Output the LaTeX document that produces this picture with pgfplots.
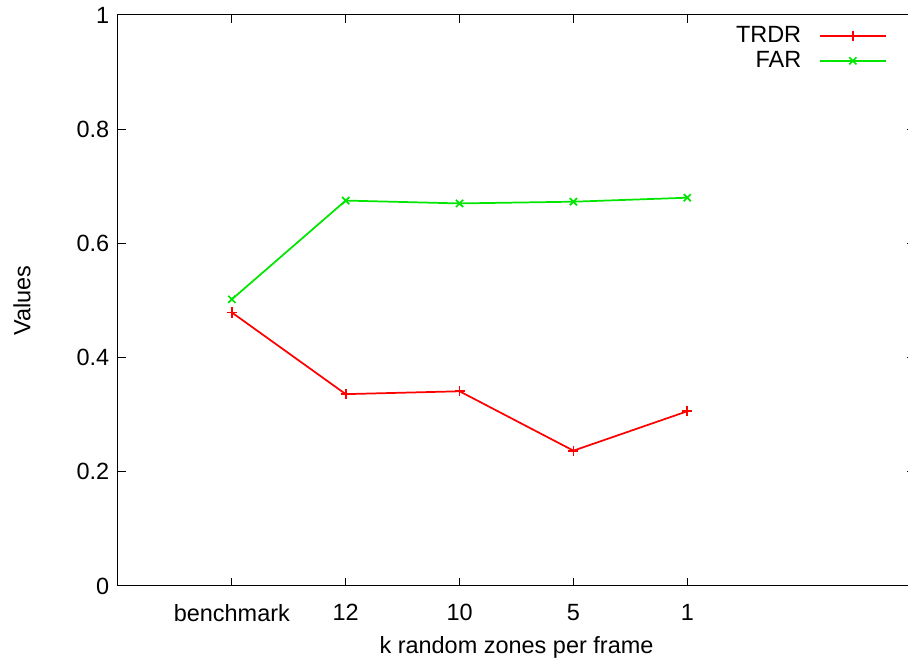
\documentclass[border=0pt]{standalone}
\usepackage{fontspec}
\setmainfont{Liberation Sans}
\usepackage{pgfplots}
\pgfplotsset{compat=1.18}
\definecolor{gpred}{RGB}{255,0,0}
\definecolor{gpgreen}{RGB}{0,230,0}
\begin{document}
\begin{tikzpicture}[font=\fontsize{17.6pt}{21pt}\selectfont]
\begin{axis}[
  name=ax,
  scale only axis,
  width=597.75pt, height=428.25pt,
  xmin=-1, xmax=6, ymin=0, ymax=1,
  xtick={0,1,2,3,4},
  xticklabels={benchmark,12,10,5,1},
  ytick={0,0.2,0.4,0.6,0.8,1},
  /pgf/number format/assume math mode=true,
  tick align=inside,
  major tick length=6pt,
  axis line style={line width=0.75pt},
  every tick/.style={line width=0.75pt, black},
  xticklabel style={yshift=-10pt},
  yticklabel style={xshift=-3pt},
  xlabel={k random zones per frame},
  ylabel={Values},
  xlabel style={at={(axis description cs:0.5,-0.1068)}, anchor=center},
  ylabel style={at={(axis description cs:-0.1205,0.5)}, anchor=center},
  legend style={draw=none, fill=none, at={(1,1)}, anchor=north east, xshift=-18pt, yshift=-4.6pt,
    row sep=1.2pt, font=\fontsize{17.6pt}{21pt}\selectfont},
  legend cell align=right,
  legend plot pos=right,
  legend image code/.code={
    \path[draw=none, fill=none, mark=none] (0pt,0pt) -- (1pt,0pt);
    \draw[#1, mark=none] (12pt,0pt) -- (61.5pt,0pt);
    \draw[#1, only marks] plot coordinates {(36.75pt,0pt)};
  },
]
\addplot[color=gpred, line width=1.3pt, mark=+, mark size=3.8pt, mark options={line width=1.3pt}]
  coordinates {(0,0.479) (1,0.336) (2,0.341) (3,0.237) (4,0.306)};
\addlegendentry{TRDR}
\addplot[color=gpgreen, line width=1.3pt, mark=x, mark size=3.8pt, mark options={line width=1.3pt}]
  coordinates {(0,0.502) (1,0.675) (2,0.670) (3,0.673) (4,0.680)};
\addlegendentry{FAR}
\end{axis}
\pgfresetboundingbox
\path ([xshift=-88.5pt,yshift=-57pt]ax.south west) rectangle ([xshift=592.5pt,yshift=11.25pt]ax.north west);
\end{tikzpicture}
\end{document}
